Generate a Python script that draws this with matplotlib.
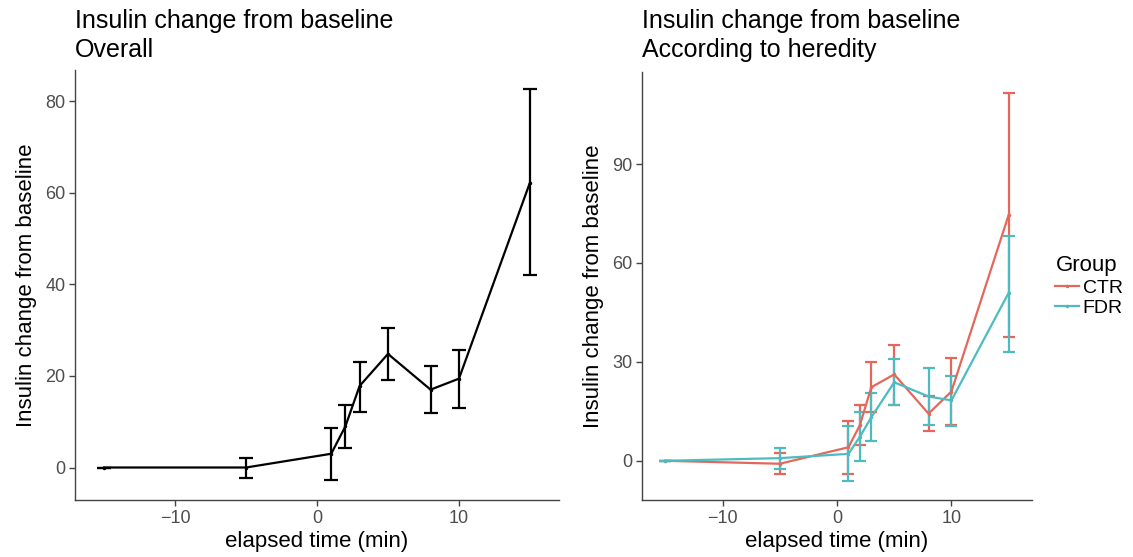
import numpy as np
import matplotlib
matplotlib.use("Agg")
import matplotlib.pyplot as plt
from matplotlib.lines import Line2D

plt.rcParams['font.family'] = ['Liberation Sans', 'DejaVu Sans']

# elapsed time (min)
times = [-15, -5, 1, 2, 3, 5, 8, 10, 15]

# overall
overall_mean = [0.0, 0.0, 3.0, 9.0, 17.8, 24.8, 17.0, 19.4, 62.2]
overall_lo = [0.0, -2.3, -2.7, 4.2, 12.1, 19.1, 11.9, 13.0, 42.0]
overall_hi = [0.0, 2.1, 8.7, 13.6, 23.0, 30.5, 22.1, 25.6, 82.6]

# by heredity
ctr_mean = [0.0, -0.9, 4.1, 10.8, 22.3, 26.2, 14.3, 21.0, 74.5]
ctr_lo = [0.0, -3.9, -4.0, 4.7, 14.7, 16.8, 8.9, 10.8, 37.4]
ctr_hi = [0.0, 2.3, 12.2, 17.0, 29.9, 35.2, 19.7, 31.3, 111.6]

fdr_mean = [0.0, 0.8, 2.1, 7.3, 13.2, 23.8, 19.5, 18.3, 50.9]
fdr_lo = [0.0, -2.5, -6.0, 0.0, 5.9, 16.8, 10.9, 10.4, 33.1]
fdr_hi = [0.0, 3.8, 10.4, 14.7, 20.5, 30.9, 28.1, 25.8, 68.3]

groups = ['CTR', 'FDR']
colors = {'CTR': '#E5675C', 'FDR': '#4DBCC1'}

axis_col = '#444444'
tick_col = '#4D4D4D'


def style_axes(ax):
    for s in ['top', 'right']:
        ax.spines[s].set_visible(False)
    for s in ['left', 'bottom']:
        ax.spines[s].set_color(axis_col)
        ax.spines[s].set_linewidth(1.0)
    ax.tick_params(colors=axis_col, labelcolor=tick_col, labelsize=13,
                   length=4, width=1.0, pad=3)
    ax.set_xlim(-17.05, 17.05)
    ax.set_xticks([-10, 0, 10])
    ax.set_xticklabels(['\u221210', '0', '10'])
    ax.set_xlabel('elapsed time (min)', fontsize=16, labelpad=3)
    ax.set_ylabel('Insulin change from baseline', fontsize=16, labelpad=6)


def draw(ax, mean, lo, hi, color, lw, cap):
    mean = np.array(mean)
    yerr = np.vstack([mean - np.array(lo), np.array(hi) - mean])
    ax.errorbar(times, mean, yerr=yerr, color=color, lw=lw, elinewidth=lw,
                capsize=cap, capthick=lw, marker='o', ms=1.5)


fig = plt.figure(figsize=(11.33, 5.57), dpi=100)
ax1 = fig.add_axes([0.0662, 0.1023, 0.4272, 0.7729])
ax2 = fig.add_axes([0.5666, 0.1023, 0.3443, 0.7684])

# left: overall
draw(ax1, overall_mean, overall_lo, overall_hi, 'black', 1.6, 5)
style_axes(ax1)
ax1.set_ylim(-7.1, 86.9)
ax1.set_yticks([0, 20, 40, 60, 80])
ax1.set_title('Insulin change from baseline\nOverall', loc='left',
              fontsize=18, pad=9, linespacing=1.25)

# right: by group
draw(ax2, ctr_mean, ctr_lo, ctr_hi, colors['CTR'], 1.6, 4.3)
draw(ax2, fdr_mean, fdr_lo, fdr_hi, colors['FDR'], 1.6, 4.3)
style_axes(ax2)
ax2.set_ylim(-11.9, 117.9)
ax2.set_yticks([0, 30, 60, 90])
ax2.set_title('Insulin change from baseline\nAccording to heredity', loc='left',
              fontsize=18, pad=11, linespacing=1.25)

handles = [Line2D([], [], color=colors[g], lw=1.6, marker='o', ms=1.5) for g in groups]
leg = ax2.legend(handles, groups, title='Group', loc='center left',
                 bbox_to_anchor=(1.0, 0.5), frameon=False, fontsize=14,
                 title_fontsize=16, handlelength=1.2, handletextpad=0.2,
                 labelspacing=0.15, borderaxespad=0.8)
leg._legend_box.align = 'left'

fig.savefig('out.png', dpi=100)
